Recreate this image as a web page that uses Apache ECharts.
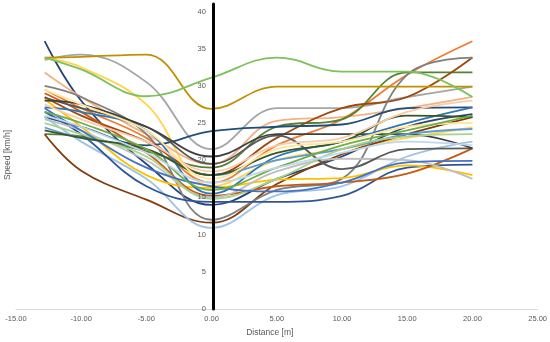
<!DOCTYPE html>
<html>
<head>
<meta charset="utf-8">
<script src="https://cdn.jsdelivr.net/npm/echarts@6/dist/echarts.min.js"></script>
<style>html,body{margin:0;padding:0;background:#fff}#c{width:550px;height:342px}</style>
</head>
<body>
<div id="c"></div>
<script>
// Distance positions of the sampled points [m]
var distances = [-12.8, -10, -5, 0, 5, 10, 15, 20];
var xTicks = [-15, -10, -5, 0, 5, 10, 15, 20, 25];
var yTicks = [0, 5, 10, 15, 20, 25, 30, 35, 40];

// Speed [km/h] of each run at the positions above
var runNames = ['R1','R2','R3','R4','R5','R6','R7','R8','R9','R10','R11','R12','R13','R14','R15',
  'R16','R17','R18','R19','R20','R21','R22','R23','R24','R25','R26','R27','R28'];
var runColors = ['#264478','#A5A5A5','#FFD54F','#F4B183','#ED7D31','#548235','#843C0C','#9E480E',
  '#7F7F7F','#1F4E79','#9DC3E6','#2F5597','#FFC000','#C55A11','#BFBFBF','#595959','#404040',
  '#2E75B6','#5B9BD5','#A9D18E','#4472C4','#385723','#F8CBAD','#FFE699','#70AD47','#BDD7EE',
  '#BF9000','#7CC25A'];
var runSpeeds = [
  [36.0, 28.0, 19.5, 14.0, 17.5, 20.5, 24.5, 26.2],
  [33.5, 34.2, 30.5, 21.5, 27.0, 27.0, 28.5, 29.9],
  [33.8, 32.5, 27.5, 16.5, 20.0, 21.5, 23.0, 24.4],
  [31.8, 28.5, 23.5, 19.5, 25.3, 25.8, 27.0, 28.5],
  [29.5, 27.0, 23.0, 17.0, 22.0, 25.5, 31.5, 36.0],
  [23.5, 23.2, 21.2, 19.0, 24.5, 25.5, 31.8, 31.8],
  [23.5, 18.6, 14.7, 11.6, 16.8, 20.8, 23.5, 25.8],
  [28.5, 26.0, 22.5, 18.0, 23.0, 27.0, 28.5, 33.8],
  [30.0, 28.5, 23.5, 12.0, 16.0, 17.5, 31.5, 33.8],
  [25.8, 24.5, 22.0, 23.9, 24.5, 24.8, 27.0, 27.1],
  [25.8, 22.5, 17.5, 10.9, 15.3, 16.5, 20.5, 22.5],
  [26.5, 23.5, 16.5, 14.4, 14.4, 15.2, 19.0, 19.4],
  [28.2, 24.5, 18.0, 16.3, 17.4, 17.6, 19.3, 18.0],
  [29.0, 26.5, 21.0, 15.2, 16.5, 17.0, 18.2, 21.6],
  [25.5, 24.0, 20.0, 15.0, 18.5, 20.2, 20.0, 17.5],
  [28.4, 27.0, 24.5, 19.5, 23.3, 18.8, 21.5, 21.6],
  [28.0, 27.5, 24.5, 20.5, 23.5, 23.5, 23.5, 21.6],
  [27.1, 26.5, 24.0, 15.5, 20.5, 22.5, 25.0, 27.1],
  [24.4, 23.0, 21.5, 18.0, 20.0, 21.5, 23.5, 24.2],
  [25.0, 23.5, 20.5, 14.8, 17.5, 21.5, 23.2, 23.5],
  [27.0, 24.0, 19.0, 16.5, 15.8, 17.0, 19.7, 19.9],
  [24.0, 23.0, 21.5, 18.0, 21.0, 22.5, 26.0, 25.8],
  [27.5, 25.5, 22.5, 18.5, 22.0, 23.0, 26.5, 28.0],
  [29.5, 27.5, 24.0, 17.5, 21.5, 22.5, 24.5, 25.0],
  [26.5, 25.0, 21.5, 16.0, 19.0, 22.0, 24.0, 26.0],
  [26.0, 24.5, 21.0, 17.0, 19.0, 21.0, 22.5, 22.0],
  [33.8, 33.9, 34.2, 26.9, 29.9, 29.9, 29.9, 29.9],
  [33.8, 32.2, 28.6, 31.1, 33.8, 31.9, 31.9, 28.5]
];

var series = runSpeeds.map(function (vals, i) {
  return {
    name: runNames[i],
    type: 'line',
    smooth: 0.4,
    symbol: 'none',
    lineStyle: { width: 1.8, color: runColors[i] },
    itemStyle: { color: runColors[i] },
    data: vals.map(function (v, j) { return [distances[j], v]; }),
    z: 2
  };
});

var W = 550, gridLeft = 16, gridRight = 9;
var plotW = W - gridLeft - gridRight;
var xMin = xTicks[0], xMax = xTicks[xTicks.length - 1];
// shift the y axis so it sits on distance 0
var yAxisOffset = -plotW * (0 - xMin) / (xMax - xMin);

var chart = echarts.init(document.getElementById('c'), null, { renderer: 'canvas' });
chart.setOption({
  animation: false,
  backgroundColor: '#ffffff',
  grid: { left: gridLeft, right: gridRight, top: 4, bottom: 31, containLabel: false },
  xAxis: {
    type: 'value', min: xMin, max: xMax, interval: 5,
    axisLine: { onZero: true, lineStyle: { color: '#D9D9D9', width: 1 } },
    axisTick: { show: false },
    splitLine: { show: false },
    axisLabel: { color: '#595959', fontSize: 7.5, fontFamily: 'Liberation Sans', margin: 6,
      formatter: function (v) { return v.toFixed(2); } },
    name: 'Distance [m]', nameLocation: 'middle', nameGap: 19,
    nameTextStyle: { color: '#595959', fontSize: 8.5, fontFamily: 'Liberation Sans', padding: [0, 14, 0, 0] }
  },
  yAxis: {
    type: 'value', min: 0, max: 41, interval: 5, position: 'left', offset: yAxisOffset,
    axisLine: { onZero: false, lineStyle: { color: '#000000', width: 3 } },
    axisTick: { show: false },
    splitLine: { show: false },
    axisLabel: { color: '#595959', fontSize: 7.5, fontFamily: 'Liberation Sans', margin: 7, showMaxLabel: false,
      formatter: function (v) { return yTicks.indexOf(v) >= 0 ? String(v) : ''; } },
    z: 5
  },
  graphic: [{
    type: 'text', x: 8, y: 155, rotation: Math.PI / 2,
    style: { text: 'Speed [km/h]', fill: '#595959', font: '8.5px "Liberation Sans"', align: 'center', verticalAlign: 'middle' }
  }],
  series: series
});
</script>
</body>
</html>
